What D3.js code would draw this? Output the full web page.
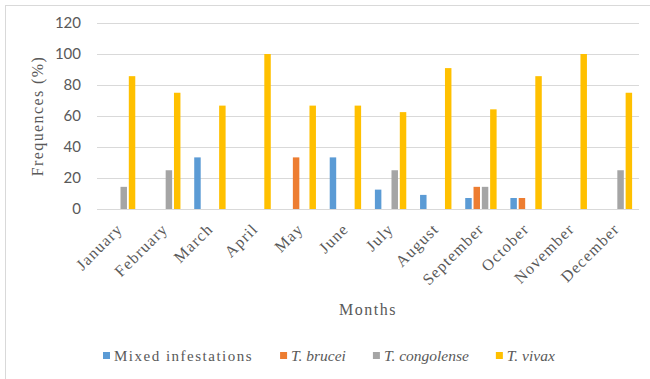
<!DOCTYPE html>
<html>
<head>
<meta charset="utf-8">
<script src="https://cdn.jsdelivr.net/npm/d3@7"></script>
<style>
    body { margin: 0; background: #ffffff; }
    .grid line { stroke: #d9d9d9; stroke-width: 1; }
</style>
</head>
<body>
<svg id="chart" width="650" height="379"></svg>
<script>
// Donnees (frequences en %).
const months = ["January", "February", "March", "April", "May", "June",
    "July", "August", "September", "October", "November", "December"];
const seriesNames = ["Mixed infestations", "T. brucei", "T. congolense", "T. vivax"];
const seriesColors = ["#5b9bd5", "#ed7d31", "#a5a5a5", "#ffc000"];
const mixedValues = [0, 0, 33.3, 0, 0, 33.3, 12.5, 9.1, 7.1, 7.1, 0, 0];
const bruceiValues = [0, 0, 0, 0, 33.3, 0, 0, 0, 14.3, 7.1, 0, 0];
const congolenseValues = [14.3, 25, 0, 0, 0, 0, 25, 0, 14.3, 0, 0, 25];
const vivaxValues = [85.7, 75, 66.7, 100, 66.7, 66.7, 62.5, 90.9, 64.3, 85.7, 100, 75];
const yTicks = [0, 20, 40, 60, 80, 100, 120];

const seriesValues = [mixedValues, bruceiValues, congolenseValues, vivaxValues];

const SERIF = "'Liberation Serif', 'DejaVu Serif', serif";
const SANS = "Lato, 'Open Sans', sans-serif";
const TEXT_COLOR = "#595959";

const svg = d3.select("#chart");

const plot = { left: 97, right: 639, top: 23, bottom: 209 };

// Cadre du graphique (bord gauche et haut visibles).
svg.append("rect")
    .attr("x", 5.5)
    .attr("y", 5.5)
    .attr("width", 660)
    .attr("height", 400)
    .attr("fill", "none")
    .attr("stroke", "#d9d9d9");

const y = d3.scaleLinear().domain([0, 120]).range([plot.bottom, plot.top]);

const x0 = d3.scaleBand().domain(months).range([plot.left, plot.right]);

const x1 = d3.scaleBand()
    .domain(seriesNames)
    .range([0, x0.bandwidth()])
    .paddingInner(0.22)
    .paddingOuter(0.83);

// Lignes de grille horizontales.
svg.append("g")
    .attr("class", "grid")
    .selectAll("line")
    .data(yTicks)
    .enter()
    .append("line")
    .attr("x1", plot.left)
    .attr("x2", plot.right)
    .attr("y1", function(d) { return Math.round(y(d)) + 0.5; })
    .attr("y2", function(d) { return Math.round(y(d)) + 0.5; });

// Libelles de l'axe Y.
svg.append("g")
    .selectAll("text")
    .data(yTicks)
    .enter()
    .append("text")
    .attr("font-family", SANS)
    .attr("font-size", 15)
    .attr("fill", TEXT_COLOR)
    .attr("x", 81)
    .attr("y", function(d) { return y(d); })
    .attr("dy", "0.36em")
    .attr("text-anchor", "end")
    .text(function(d) { return d; });

// Barres groupees par mois.
const rows = [];
months.forEach(function(month, i) {
    seriesNames.forEach(function(name, j) {
        if (seriesValues[j][i] > 0) {
            rows.push({ month: month, series: name, color: seriesColors[j], value: seriesValues[j][i] });
        }
    });
});

svg.append("g")
    .selectAll("rect")
    .data(rows)
    .enter()
    .append("rect")
    .attr("x", function(d) { return x0(d.month) + x1(d.series); })
    .attr("y", function(d) { return y(d.value); })
    .attr("width", x1.bandwidth())
    .attr("height", function(d) { return y(0) - y(d.value); })
    .attr("fill", function(d) { return d.color; });

// Libelles des mois, inclines a -45 degres.
svg.append("g")
    .selectAll("text")
    .data(months)
    .enter()
    .append("text")
    .attr("font-family", SERIF)
    .attr("font-size", 16)
    .attr("fill", TEXT_COLOR)
    .attr("letter-spacing", 1.2)
    .attr("text-anchor", "end")
    .attr("transform", function(d) {
        const cx = x0(d) + x0.bandwidth() / 2 + 4;
        return "translate(" + cx + "," + 230 + ") rotate(-45)";
    })
    .text(function(d) { return d; });

// Titres des axes.
svg.append("text")
    .attr("font-family", SERIF)
    .attr("font-size", 16)
    .attr("fill", TEXT_COLOR)
    .attr("letter-spacing", 1.4)
    .attr("text-anchor", "middle")
    .attr("transform", "translate(43," + (plot.top + plot.bottom) / 2 + ") rotate(-90)")
    .text("Frequences (%)");

svg.append("text")
    .attr("font-family", SERIF)
    .attr("font-size", 16)
    .attr("fill", TEXT_COLOR)
    .attr("letter-spacing", 1.5)
    .attr("text-anchor", "middle")
    .attr("x", (plot.left + plot.right) / 2)
    .attr("y", 315)
    .text("Months");

// Legende : carre de couleur puis nom de la serie.
const legend = svg.append("g");
let legendX = 103;
seriesNames.forEach(function(name, j) {
    legend.append("rect")
        .attr("x", legendX)
        .attr("y", 352)
        .attr("width", 7)
        .attr("height", 7)
        .attr("fill", seriesColors[j]);

    const label = legend.append("text")
        .attr("font-family", SERIF)
        .attr("font-size", j === 0 ? 15 : 15.5)
        .attr("fill", TEXT_COLOR)
        .attr("x", legendX + 11)
        .attr("y", 361)
        .text(name);

    if (j === 0) {
        label.attr("letter-spacing", 1.5);
    } else {
        label.attr("font-style", "italic");
    }

    legendX += 11 + label.node().getComputedTextLength() + 27;
});
</script>
</body>
</html>
